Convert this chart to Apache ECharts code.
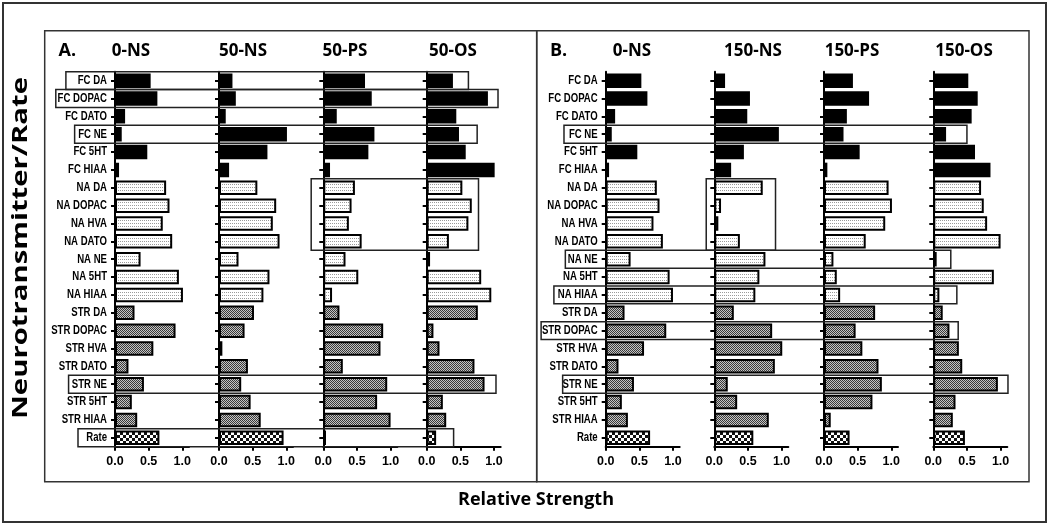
<!DOCTYPE html>
<html><head><meta charset="utf-8">
<script src="https://cdn.jsdelivr.net/npm/echarts@6/dist/echarts.min.js"></script>
<style>html,body{margin:0;padding:0;background:#fff}#c{width:1050px;height:528px}</style>
</head><body><div id="c"></div>
<script>
const categories = ['FC DA','FC DOPAC','FC DATO','FC NE','FC 5HT','FC HIAA','NA DA','NA DOPAC','NA HVA','NA DATO','NA NE','NA 5HT','NA HIAA','STR DA','STR DOPAC','STR HVA','STR DATO','STR NE','STR 5HT','STR HIAA','Rate'];
const xTicks = [0, 0.5, 1.0];
const titlesA = ['0-NS','50-NS','50-PS','50-OS'];
const titlesB = ['0-NS','150-NS','150-PS','150-OS'];

const A_0NS   = [0.53,0.63,0.15,0.10,0.48,0.06,0.76,0.81,0.71,0.85,0.38,0.95,1.01,0.29,0.90,0.57,0.20,0.43,0.25,0.33,0.66];
const A_50NS  = [0.20,0.25,0.10,1.01,0.72,0.15,0.57,0.85,0.80,0.90,0.29,0.75,0.66,0.52,0.38,0.05,0.43,0.33,0.47,0.62,0.96];
const A_50PS  = [0.62,0.72,0.20,0.76,0.67,0.10,0.47,0.42,0.38,0.57,0.33,0.52,0.13,0.24,0.89,0.85,0.29,0.95,0.80,1.00,0.04];
const A_50OS  = [0.39,0.91,0.44,0.48,0.58,1.01,0.53,0.67,0.62,0.33,0.05,0.81,0.96,0.76,0.10,0.19,0.71,0.86,0.24,0.29,0.14];
const B_0NS   = [0.53,0.62,0.14,0.09,0.47,0.05,0.76,0.80,0.71,0.85,0.37,0.95,1.00,0.28,0.90,0.57,0.19,0.42,0.24,0.33,0.66];
const B_150NS = [0.16,0.53,0.49,0.96,0.44,0.25,0.72,0.10,0.06,0.38,0.76,0.67,0.61,0.29,0.86,1.01,0.90,0.20,0.34,0.81,0.58];
const B_150PS = [0.43,0.67,0.34,0.29,0.53,0.05,0.96,1.01,0.91,0.62,0.14,0.19,0.24,0.76,0.47,0.57,0.81,0.86,0.72,0.10,0.38];
const B_150OS = [0.52,0.66,0.57,0.19,0.62,0.85,0.71,0.75,0.80,1.00,0.05,0.90,0.09,0.14,0.24,0.38,0.43,0.96,0.33,0.29,0.47];

// highlight boxes: rows [from,to], left edge (grid, value), right edge (grid, value)
const boxRows   = [[0,0],[1,1],[3,3],[6,9],[17,17],[20,20],  [3,3],[6,9],[10,10],[12,12],[14,14],[17,17]];
const boxLeft   = [[0,-0.73],[0,-0.88],[0,-0.60],[2,-0.18],[0,-0.69],[0,-0.55], [4,-0.62],[5,-0.12],[4,-0.60],[4,-0.77],[4,-0.96],[4,-0.64]];
const boxRight  = [[3,0.62],[3,1.06],[3,0.75],[3,0.77],[3,1.03],[3,0.40], [7,0.50],[5,0.91],[7,0.26],[7,0.35],[7,0.37],[7,1.11]];

const allData = [A_0NS, A_50NS, A_50PS, A_50OS, B_0NS, B_150NS, B_150PS, B_150OS];
const gridLefts = [115, 219, 323.3, 426.7, 605.7, 714.3, 824, 933.3];
const titleX = [131, 243, 345, 453, 632, 753, 852, 964];
const GT = 71.7, GH = 375, GW = 74;

function pat(w, h, draw) {
  const c = document.createElement('canvas'); c.width = w; c.height = h;
  const x = c.getContext('2d'); draw(x); return { image: c, repeat: 'repeat' };
}
const naPat = pat(4, 3, x => { x.fillStyle = '#fff'; x.fillRect(0,0,4,3); x.fillStyle = '#9a9a9a'; x.fillRect(0,1,1,1); x.fillRect(2,1,1,1); });
const strPat = pat(2, 2, x => { x.fillStyle = '#c4c4c4'; x.fillRect(0,0,2,2); x.fillStyle = '#3a3a3a'; x.fillRect(0,0,1,1); x.fillRect(1,1,1,1); });
const ratePat = pat(6, 6, x => { x.fillStyle = '#fff'; x.fillRect(0,0,6,6); x.fillStyle = '#111'; x.fillRect(0,0,3,3); x.fillRect(3,3,3,3); });
function fillFor(cat) {
  if (cat.startsWith('FC')) return '#000';
  if (cat.startsWith('NA')) return naPat;
  if (cat.startsWith('STR')) return strPat;
  return ratePat;
}

const chart = echarts.init(document.getElementById('c'), null, { renderer: 'canvas' });
const grid = [], xAxis = [], yAxis = [], series = [];
allData.forEach((arr, g) => {
  grid.push({ left: gridLefts[g], top: GT, width: GW, height: GH });
  xAxis.push({
    type: 'value', gridIndex: g, min: 0, max: 1.1,
    axisLine: { show: true, lineStyle: { color: '#000', width: 2 } },
    axisTick: { show: true, customValues: xTicks, length: 4, lineStyle: { color: '#000', width: 2 } },
    axisLabel: { customValues: xTicks, formatter: v => v.toFixed(1), color: '#000', fontWeight: 'bold', fontSize: 12.5, fontFamily: 'Liberation Sans', margin: 8 },
    splitLine: { show: false }
  });
  yAxis.push({
    type: 'category', gridIndex: g, data: categories, inverse: true,
    axisLine: { show: true, lineStyle: { color: '#000', width: 2 } },
    axisTick: { show: true, alignWithLabel: true, length: 4, lineStyle: { color: '#000', width: 2 } },
    axisLabel: { show: false }
  });
  series.push({
    type: 'bar', xAxisIndex: g, yAxisIndex: g, barWidth: 14.5, z: 3,
    data: arr.map((v, i) => ({ value: v, itemStyle: { color: fillFor(categories[i]), borderColor: '#000', borderWidth: 2 } })),
    animation: false
  });
});

chart.setOption({ animation: false, grid, xAxis, yAxis, series });

const graphic = [];
graphic.push({ type: 'rect', shape: { x: 3, y: 3, width: 1043, height: 519 }, style: { fill: 'none', stroke: '#333', lineWidth: 2 }, silent: true });
graphic.push({ type: 'rect', shape: { x: 44.7, y: 30.7, width: 492, height: 451 }, style: { fill: 'none', stroke: '#333', lineWidth: 1.5 }, silent: true });
graphic.push({ type: 'rect', shape: { x: 536.7, y: 30.7, width: 492.3, height: 451 }, style: { fill: 'none', stroke: '#333', lineWidth: 1.5 }, silent: true });
graphic.push({ type: 'text', x: 58.5, y: 51, style: { text: 'A.', fontSize: 18, fontWeight: 'bold', fontFamily: 'Open Sans', fill: '#000', align: 'left', verticalAlign: 'middle' }, silent: true });
graphic.push({ type: 'text', x: 550, y: 51, style: { text: 'B.', fontSize: 18, fontWeight: 'bold', fontFamily: 'Open Sans', fill: '#000', align: 'left', verticalAlign: 'middle' }, silent: true });
titlesA.concat(titlesB).forEach((t, i) => {
  graphic.push({ type: 'text', x: titleX[i], y: 51, style: { text: t, fontSize: 17, fontWeight: 'bold', fontFamily: 'Open Sans', fill: '#000', align: 'center', verticalAlign: 'middle' }, silent: true });
});
graphic.push({ type: 'text', x: 21, y: 248, rotation: Math.PI / 2, scaleX: 1.33, style: { text: 'Neurotransmitter/Rate', fontSize: 22, fontWeight: 'bold', fontFamily: 'Open Sans', fill: '#000', align: 'center', verticalAlign: 'middle' }, silent: true });
graphic.push({ type: 'text', x: 536, y: 500, style: { text: 'Relative Strength', fontSize: 18, fontWeight: 'bold', fontFamily: 'Open Sans', fill: '#000', align: 'center', verticalAlign: 'middle' }, silent: true });

// category labels (condensed) for the first chart of each panel
[0, 4].forEach(g => {
  categories.forEach((cat, i) => {
    const y = chart.convertToPixel({ yAxisIndex: g }, i);
    const x = chart.convertToPixel({ xAxisIndex: g }, 0) - 8;
    graphic.push({ type: 'text', x, y, scaleX: 0.8, silent: true, z: 5,
      style: { text: cat, fontSize: 12, fontWeight: 'bold', fontFamily: 'Liberation Sans', fill: '#000', align: 'right', verticalAlign: 'middle' } });
  });
});

boxRows.forEach((rows, k) => {
  const gL = boxLeft[k][0], gR = boxRight[k][0];
  const c0 = chart.convertToPixel({ yAxisIndex: gL }, 0);
  const c1 = chart.convertToPixel({ yAxisIndex: gL }, 1);
  const step = c1 - c0;
  const yTop = chart.convertToPixel({ yAxisIndex: gL }, rows[0]) - step / 2;
  const yBot = chart.convertToPixel({ yAxisIndex: gL }, rows[1]) + step / 2;
  const xL = chart.convertToPixel({ xAxisIndex: gL }, boxLeft[k][1]);
  const xR = chart.convertToPixel({ xAxisIndex: gR }, boxRight[k][1]);
  graphic.push({ type: 'rect', z: 10, silent: true, shape: { x: xL, y: yTop, width: xR - xL, height: yBot - yTop }, style: { fill: 'none', stroke: '#222', lineWidth: 1.5 } });
});
chart.setOption({ graphic });
</script></body></html>
